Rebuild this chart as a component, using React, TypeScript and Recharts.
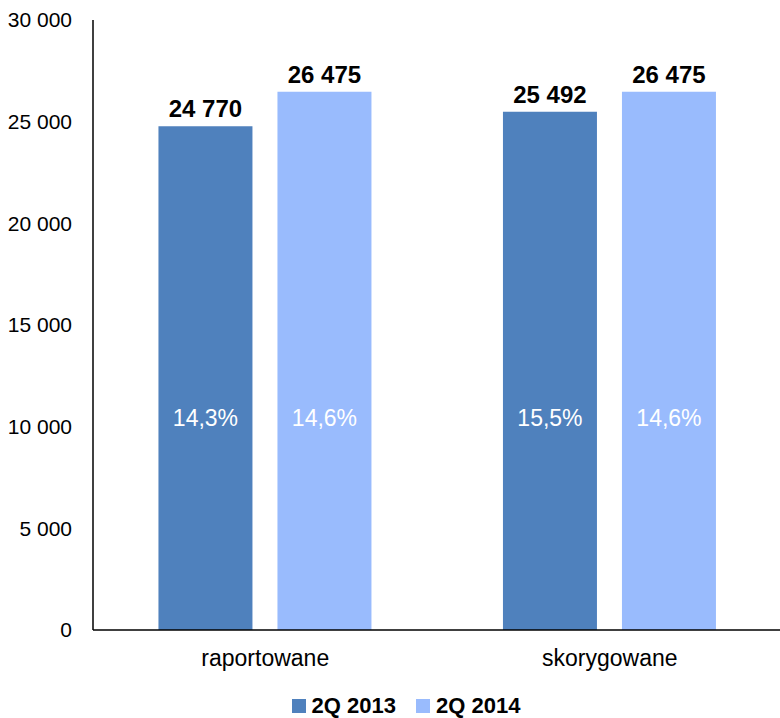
import { BarChart, Bar, XAxis, YAxis, Legend, LabelList } from "recharts";

const categories = ["raportowane", "skorygowane"];
const values2013 = [24770, 25492];
const values2014 = [26475, 26475];
const shares2013 = ["14,3%", "15,5%"];
const shares2014 = ["14,6%", "14,6%"];
const yTicks = [0, 5000, 10000, 15000, 20000, 25000, 30000];

const data = categories.map((name, i) => ({
  name,
  q2013: values2013[i],
  q2014: values2014[i],
  s2013: shares2013[i],
  s2014: shares2014[i],
}));

const FONT = "'Liberation Sans', Arial, sans-serif";
const DARK = "#4F81BD";
const LIGHT = "#99BBFD";

const fmt = (v: number) => String(v).replace(/\B(?=(\d{3})+(?!\d))/g, " ");

function LegendContent() {
  const items = [
    { label: "2Q 2013", color: DARK },
    { label: "2Q 2014", color: LIGHT },
  ];
  return (
    <div
      style={{
        display: "flex",
        justifyContent: "center",
        gap: 20,
        paddingLeft: 30,
        fontFamily: FONT,
        lineHeight: "24px",
      }}
    >
      {items.map((it) => (
        <div key={it.label} style={{ display: "flex", alignItems: "center" }}>
          <span style={{ width: 14, height: 14, background: it.color, display: "inline-block", marginRight: 6 }} />
          <span style={{ fontSize: 22, fontWeight: 700, color: "#000" }}>{it.label}</span>
        </div>
      ))}
    </div>
  );
}

export default function App() {
  return (
    <div style={{ position: "absolute", left: 0, top: 0, background: "#fff" }}>
      <BarChart
        width={780}
        height={718}
        data={data}
        margin={{ top: 20, right: -2, left: 0, bottom: 0 }}
        barCategoryGap="19%"
        barGap={25}
      >
        <XAxis
          dataKey="name"
          axisLine={{ stroke: "#000", strokeWidth: 1.5 }}
          tickLine={false}
          tickSize={0}
          tickMargin={20}
          height={64}
          tick={{ fontSize: 23, fill: "#000", fontFamily: FONT }}
        />
        <YAxis
          domain={[0, 30000]}
          ticks={yTicks}
          width={93}
          axisLine={{ stroke: "#000", strokeWidth: 1.5 }}
          tickLine={false}
          tickSize={0}
          tickMargin={21}
          tickFormatter={fmt}
          tick={{ fontSize: 21, fill: "#000", fontFamily: FONT }}
        />
        <Legend verticalAlign="bottom" height={24} content={<LegendContent />} />
        <Bar dataKey="q2013" fill={DARK} isAnimationActive={false}>
          <LabelList
            dataKey="q2013"
            position="top"
            offset={9}
            formatter={(v: any) => fmt(v)}
            style={{ fontSize: 24, fontWeight: 700, fill: "#000", fontFamily: FONT }}
          />
          <LabelList
            dataKey="s2013"
            position="insideBottom"
            offset={204}
            style={{ fontSize: 23, fill: "#fff", fontFamily: FONT }}
          />
        </Bar>
        <Bar dataKey="q2014" fill={LIGHT} isAnimationActive={false}>
          <LabelList
            dataKey="q2014"
            position="top"
            offset={9}
            formatter={(v: any) => fmt(v)}
            style={{ fontSize: 24, fontWeight: 700, fill: "#000", fontFamily: FONT }}
          />
          <LabelList
            dataKey="s2014"
            position="insideBottom"
            offset={204}
            style={{ fontSize: 23, fill: "#fff", fontFamily: FONT }}
          />
        </Bar>
      </BarChart>
    </div>
  );
}
